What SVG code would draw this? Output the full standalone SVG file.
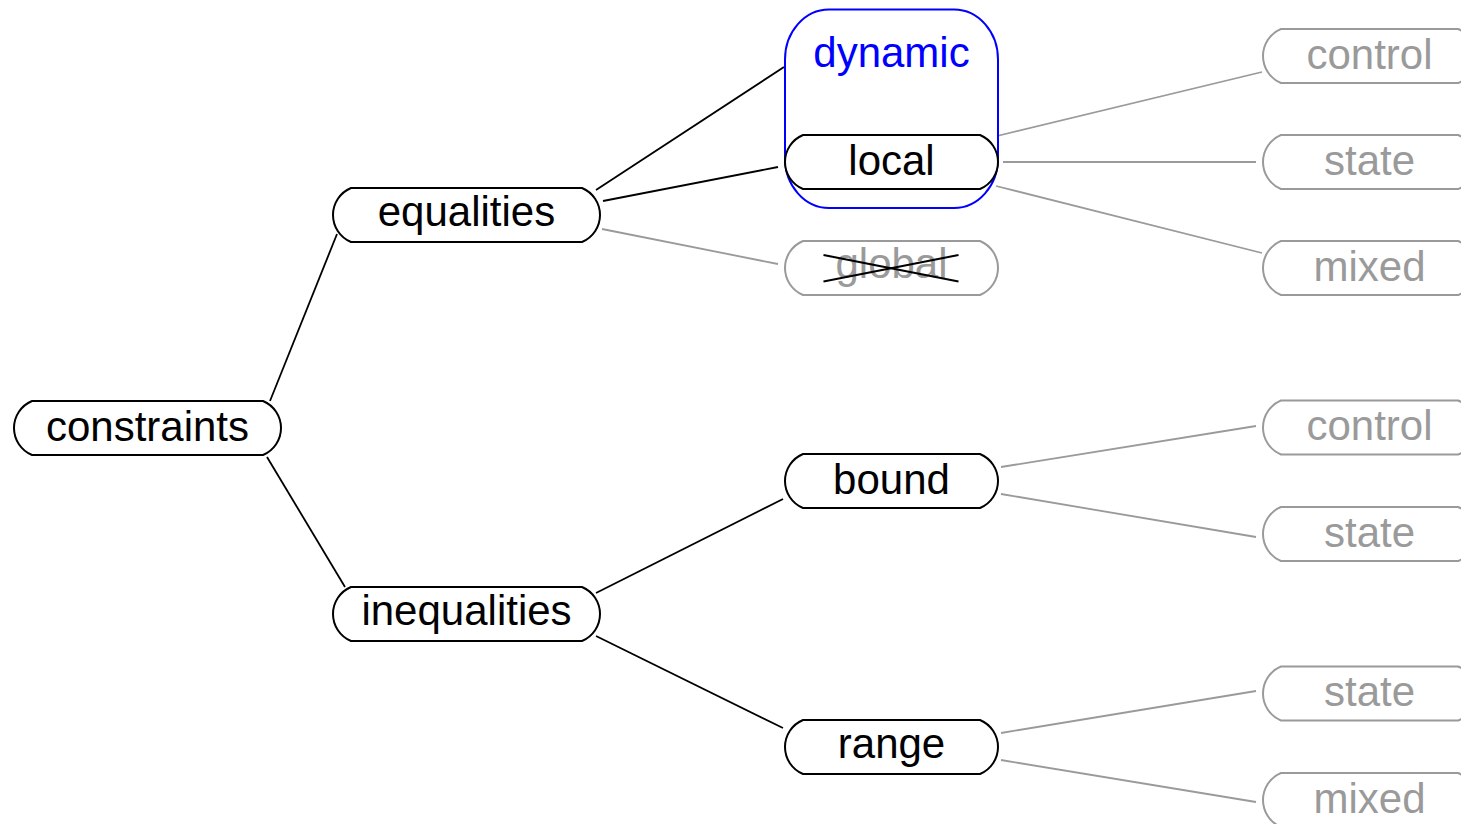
<svg xmlns="http://www.w3.org/2000/svg" width="1461" height="824" viewBox="0 0 1461 824">
  <defs>
    <!-- rounded-rectangle node outlines, centred on the origin -->
    <path id="wide" d="M -115.5,-27 H 115.5 A 29.25 29.25 0 0 1 115.5,27 H -115.5 A 29.25 29.25 0 0 1 -115.5,-27 Z"/>
    <path id="narrow" d="M -88.5,-27 H 88.5 A 29.25 29.25 0 0 1 88.5,27 H -88.5 A 29.25 29.25 0 0 1 -88.5,-27 Z"/>
  </defs>
  <style>
    .node use { fill: #ffffff; stroke: #000000; stroke-width: 2; }
    .node text { font-family: "Liberation Sans", Arial, sans-serif; font-size: 42px; fill: #000000; text-anchor: middle; }
    .off use { stroke: #9a9a9a; }
    .off text { fill: #9a9a9a; }
    .edge { stroke: #000000; stroke-width: 1.8; fill: none; }
    .edge-off { stroke: #9a9a9a; stroke-width: 1.8; fill: none; }
  </style>
  <rect width="1461" height="824" fill="#ffffff"/>

  <!-- connectors -->
  <g id="connectors">
    <line class="edge" x1="270" y1="401" x2="337" y2="234"/>
    <line class="edge" x1="267" y1="457" x2="345" y2="587"/>
    <line class="edge" x1="596" y1="190" x2="784" y2="67"/>
    <line class="edge" x1="603" y1="201" x2="778" y2="167"/>
    <line class="edge-off" x1="602" y1="229" x2="778" y2="264"/>
    <line class="edge" x1="596" y1="593" x2="783" y2="499"/>
    <line class="edge" x1="596" y1="636" x2="783" y2="728"/>
    <line class="edge-off" x1="997" y1="136" x2="1262" y2="72"/>
    <line class="edge-off" x1="1003" y1="162" x2="1256" y2="162"/>
    <line class="edge-off" x1="996" y1="186" x2="1262" y2="253"/>
    <line class="edge-off" x1="1001" y1="467" x2="1256" y2="426"/>
    <line class="edge-off" x1="1001" y1="494" x2="1256" y2="537"/>
    <line class="edge-off" x1="1001" y1="733" x2="1256" y2="691"/>
    <line class="edge-off" x1="1001" y1="760" x2="1256" y2="802"/>
  </g>

  <!-- dynamic group frame -->
  <g id="dynamic">
    <rect x="785" y="9.5" width="213" height="198.5" rx="44" ry="50" fill="none" stroke="#0000ff" stroke-width="2"/>
    <text x="891.5" y="67" font-family="Liberation Sans, Arial, sans-serif" font-size="42" fill="#0000ff" text-anchor="middle">dynamic</text>
  </g>

  <g id="constraints" class="node" transform="translate(147.5,428)">
    <use href="#wide"/><text y="12.5">constraints</text>
  </g>
  <g id="equalities" class="node" transform="translate(466.5,215)">
    <use href="#wide"/><text y="10.5">equalities</text>
  </g>
  <g id="inequalities" class="node" transform="translate(466.5,614)">
    <use href="#wide"/><text y="10.5">inequalities</text>
  </g>
  <g id="local" class="node" transform="translate(891.5,162)">
    <use href="#narrow"/><text y="12.5">local</text>
  </g>
  <g id="global" class="node off" transform="translate(891.5,268)">
    <use href="#narrow"/><text y="9.5">global</text>
    <line x1="-68" y1="-13" x2="67" y2="13.5" stroke="#000000" stroke-width="2"/>
    <line x1="-68" y1="13.5" x2="67" y2="-13" stroke="#000000" stroke-width="2"/>
  </g>
  <g id="bound" class="node" transform="translate(891.5,481)">
    <use href="#narrow"/><text y="12.5">bound</text>
  </g>
  <g id="range" class="node" transform="translate(891.5,747)">
    <use href="#narrow"/><text y="10.5">range</text>
  </g>

  <g id="local-control" class="node off" transform="translate(1369.5,56)">
    <use href="#narrow"/><text y="12.5">control</text>
  </g>
  <g id="local-state" class="node off" transform="translate(1369.5,162)">
    <use href="#narrow"/><text y="12.5">state</text>
  </g>
  <g id="local-mixed" class="node off" transform="translate(1369.5,268)">
    <use href="#narrow"/><text y="12.5">mixed</text>
  </g>
  <g id="bound-control" class="node off" transform="translate(1369.5,427.5)">
    <use href="#narrow"/><text y="12.5">control</text>
  </g>
  <g id="bound-state" class="node off" transform="translate(1369.5,534)">
    <use href="#narrow"/><text y="12.5">state</text>
  </g>
  <g id="range-state" class="node off" transform="translate(1369.5,693.5)">
    <use href="#narrow"/><text y="12.5">state</text>
  </g>
  <g id="range-mixed" class="node off" transform="translate(1369.5,800)">
    <use href="#narrow"/><text y="12.5">mixed</text>
  </g>
</svg>
